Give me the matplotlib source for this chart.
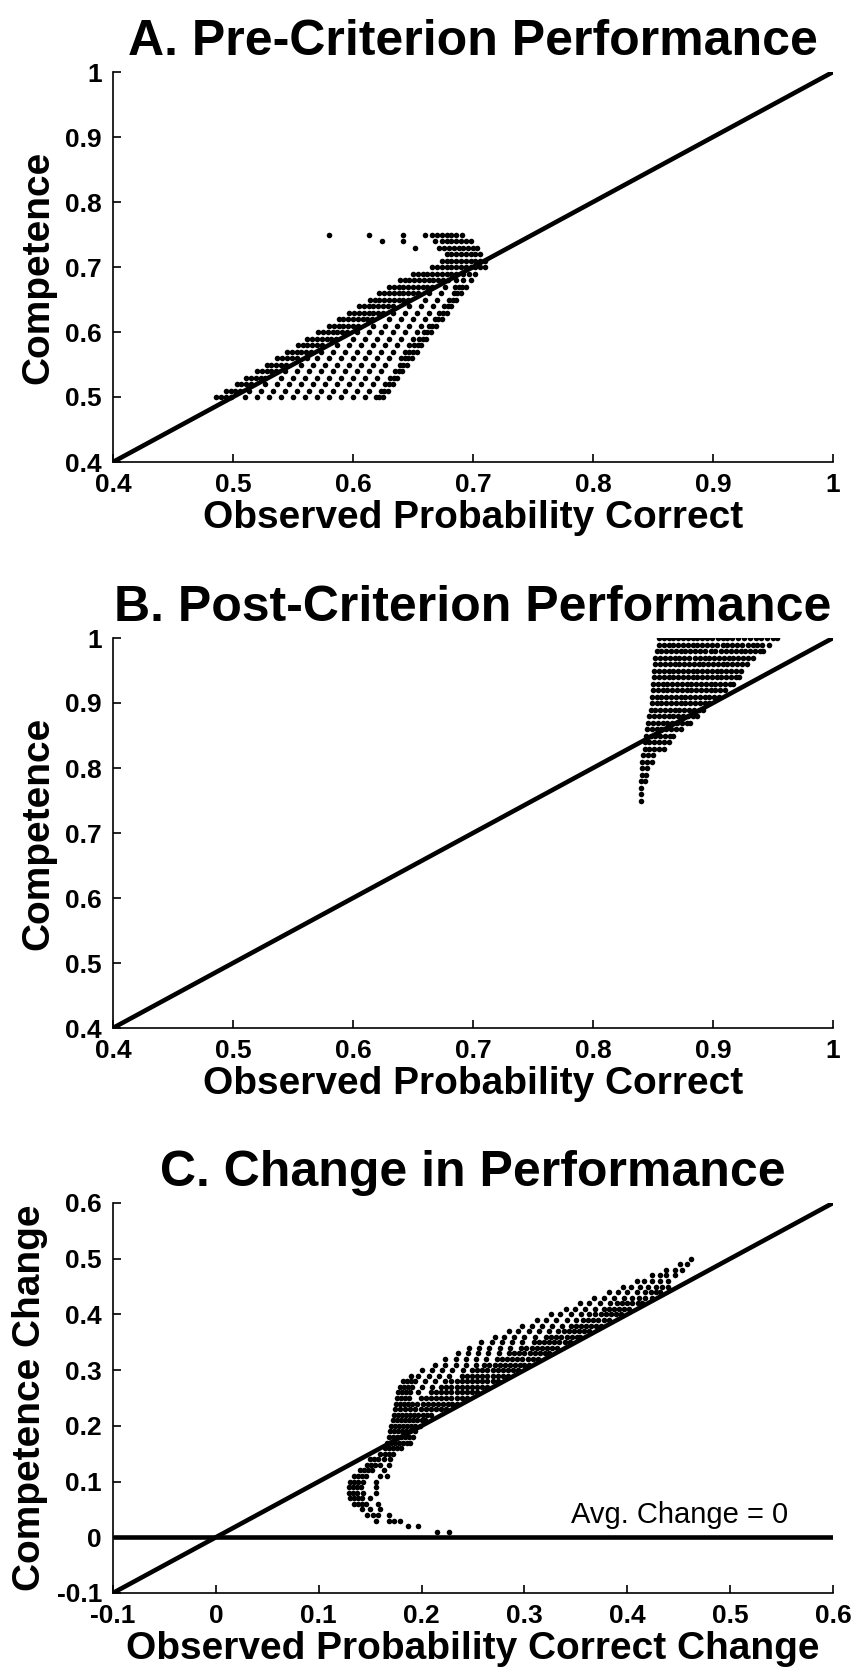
import matplotlib
matplotlib.use("Agg")
import matplotlib.pyplot as plt
import numpy as np

plt.rcParams['font.family'] = ['Liberation Sans', 'DejaVu Sans']
plt.rcParams['font.weight'] = 'bold'

# ---------------- Panel A: pre-criterion (competence rows, observed x in thousandths)
pre_competence = [0.50, 0.51, 0.52, 0.53, 0.54, 0.55, 0.56, 0.57, 0.58, 0.59, 0.60,
                  0.61, 0.62, 0.63, 0.64, 0.65, 0.66, 0.67, 0.68, 0.69, 0.70,
                  0.71, 0.72, 0.73, 0.74, 0.75]
pre_observed_milli = [
    [486, 490, 494, 498, 510, 520, 530, 540, 550, 560, 570, 580, 590, 600, 610, 619, 622, 625],
    [494, 498, 502, 506, 513, 523, 533, 543, 553, 563, 573, 583, 593, 603, 613, 623, 626, 629],
    [503, 507, 511, 515, 527, 537, 547, 557, 567, 577, 587, 597, 607, 617, 627, 630, 633],
    [511, 515, 519, 523, 527, 540, 550, 560, 570, 580, 590, 600, 610, 620, 631, 634, 637],
    [520, 524, 528, 532, 536, 543, 553, 563, 573, 583, 593, 603, 613, 623, 635, 638, 641],
    [528, 532, 536, 540, 544, 557, 567, 577, 587, 597, 607, 617, 627, 639, 642, 645],
    [537, 541, 545, 549, 553, 562, 570, 580, 590, 600, 610, 620, 630, 640, 643, 646, 649],
    [545, 549, 553, 557, 561, 565, 573, 583, 593, 603, 613, 623, 633, 643, 647, 650, 653],
    [554, 558, 562, 566, 570, 574, 587, 597, 607, 617, 627, 637, 647, 651, 654, 657],
    [562, 566, 570, 574, 578, 582, 586, 600, 610, 620, 630, 640, 650, 655, 658, 661],
    [571, 575, 579, 583, 587, 591, 595, 603, 613, 623, 633, 643, 653, 659, 662, 665],
    [580, 584, 588, 592, 596, 600, 604, 617, 627, 637, 647, 657, 663, 666, 669],
    [588, 592, 596, 600, 604, 608, 612, 616, 630, 640, 650, 660, 668, 671, 674],
    [597, 601, 605, 609, 613, 617, 621, 625, 633, 643, 653, 663, 672, 675, 678],
    [605, 609, 613, 617, 621, 625, 629, 633, 647, 657, 667, 676, 679, 682],
    [614, 618, 622, 626, 630, 634, 638, 642, 646, 660, 670, 680, 683, 686],
    [622, 626, 630, 634, 638, 642, 646, 650, 654, 663, 673, 684, 687, 690],
    [630, 634, 638, 642, 646, 650, 654, 658, 662, 666, 677, 685, 688, 691, 694],
    [639, 643, 647, 651, 655, 659, 663, 667, 671, 675, 679, 686, 692, 698],
    [650, 654, 658, 662, 666, 670, 674, 678, 682, 686, 692, 697, 702],
    [666, 670, 674, 678, 682, 686, 690, 694, 698, 702, 706, 710],
    [674, 678, 682, 686, 690, 694, 698, 702, 706, 710],
    [678, 682, 686, 690, 694, 698, 702, 706],
    [652, 672, 676, 680, 684, 688, 692, 696, 700, 703],
    [624, 642, 668, 674, 678, 682, 686, 690, 694, 698],
    [580, 613, 642, 660, 666, 670, 674, 678, 682, 686, 691],
]

# ---------------- Panel B: post-criterion
post_competence = [0.75, 0.76, 0.77, 0.78, 0.79, 0.80, 0.81, 0.82, 0.83, 0.84, 0.85,
                   0.86, 0.87, 0.88, 0.89, 0.90, 0.91, 0.92, 0.93, 0.94, 0.95,
                   0.96, 0.97, 0.98, 0.99, 1.00]
post_observed_milli = [
    [840],
    [840],
    [840],
    [840, 843],
    [841, 844],
    [841, 845],
    [841, 845, 849],
    [842, 846, 850],
    [843, 847, 851, 855, 859],
    [843, 847, 851, 855, 859, 863],
    [844, 848, 852, 856, 860, 864, 867],
    [845, 849, 853, 857, 861, 865, 869, 873],
    [846, 850, 854, 858, 862, 866, 870, 874, 878, 881],
    [847, 851, 855, 859, 863, 867, 871, 875, 879, 883, 887],
    [848, 852, 856, 860, 864, 868, 872, 876, 880, 884, 888, 892],
    [849, 853, 857, 861, 865, 869, 873, 877, 881, 885, 889, 893, 897],
    [849, 853, 857, 861, 865, 869, 873, 877, 881, 885, 889, 893, 897, 901, 905],
    [850, 854, 858, 862, 866, 870, 874, 878, 882, 886, 890, 894, 898, 902, 906, 910],
    [850, 854, 858, 862, 866, 870, 874, 878, 882, 886, 890, 894, 898, 902, 906, 910, 914, 917],
    [851, 855, 859, 863, 867, 871, 875, 879, 883, 887, 891, 895, 899, 903, 907, 911, 915, 919, 922],
    [851, 855, 859, 863, 867, 871, 875, 879, 883, 887, 891, 895, 899, 903, 907, 911, 915, 919, 923],
    [852, 856, 860, 864, 868, 872, 876, 880, 884, 888, 892, 896, 900, 904, 908, 912, 916, 920, 924, 928],
    [852, 856, 860, 864, 868, 872, 876, 880, 885, 889, 893, 897, 901, 905, 909, 913, 917, 921, 925, 929, 933],
    [853, 857, 861, 865, 869, 873, 877, 881, 885, 889, 893, 898, 902, 907, 911, 915, 919, 923, 927, 931, 935, 939, 942],
    [855, 859, 863, 867, 871, 875, 879, 883, 887, 891, 895, 899, 903, 908, 912, 916, 920, 924, 929, 933, 937, 941, 947],
    [855, 859, 863, 867, 871, 875, 879, 883, 887, 891, 895, 899, 904, 908, 912, 916, 921, 926, 931, 936, 940, 945, 950, 953],
]

# ---------------- Panel C: change
change_competence = [0.01, 0.02, 0.03, 0.04, 0.05, 0.06, 0.07, 0.08, 0.09, 0.10,
                     0.11, 0.12, 0.13, 0.14, 0.15, 0.16, 0.17, 0.18, 0.19, 0.20,
                     0.21, 0.22, 0.23, 0.24, 0.25, 0.26, 0.27, 0.28, 0.29, 0.30,
                     0.31, 0.32, 0.33, 0.34, 0.35, 0.36, 0.37, 0.38, 0.39, 0.40,
                     0.41, 0.42, 0.43, 0.44, 0.45, 0.46, 0.47, 0.48, 0.49, 0.50]
change_observed_milli = [
    [215, 227],
    [187, 197],
    [156, 168, 173, 179],
    [147, 153, 158, 168],
    [142, 150, 160],
    [134, 138, 142, 146, 158],
    [130, 134, 138, 142, 150],
    [129, 133, 137, 143, 156],
    [129, 133, 137, 141, 156],
    [130, 134, 138, 143, 156],
    [134, 138, 142, 146, 160, 166],
    [140, 144, 148, 152, 163],
    [147, 151, 155, 160, 168],
    [150, 154, 158, 163, 169],
    [160, 164, 168, 172],
    [164, 168, 172, 176, 180],
    [166, 170, 174, 178, 182, 186, 189],
    [168, 172, 176, 180, 184, 188, 192],
    [169, 173, 177, 181, 185, 189, 194],
    [170, 174, 178, 182, 186, 190, 194, 198],
    [172, 176, 180, 184, 188, 192, 196, 200, 203],
    [173, 177, 181, 185, 189, 193, 197, 201, 205, 209],
    [174, 179, 184, 189, 194, 199, 204, 209, 214, 219, 224],
    [175, 179, 183, 187, 191, 196, 201, 206, 211, 216, 221, 226, 230, 234],
    [176, 180, 184, 188, 199, 204, 209, 214, 219, 224, 229, 234, 239, 244],
    [177, 181, 185, 189, 197, 209, 214, 219, 224, 229, 234, 239, 244, 249, 254],
    [179, 183, 187, 191, 200, 210, 219, 224, 229, 234, 239, 244, 249, 254, 259, 264],
    [182, 186, 190, 194, 203, 213, 223, 229, 234, 239, 244, 249, 254, 259, 264, 269, 274],
    [190, 197, 207, 217, 227, 239, 244, 249, 254, 259, 264, 269, 274, 279, 284],
    [200, 210, 220, 230, 240, 249, 254, 259, 264, 269, 274, 279, 284, 289, 294],
    [213, 223, 233, 243, 253, 261, 266, 271, 276, 281, 286, 291, 296, 300, 304],
    [223, 233, 243, 253, 263, 273, 278, 283, 288, 293, 298, 303, 308, 313],
    [235, 245, 255, 265, 275, 285, 290, 295, 300, 305, 310, 315, 320, 324],
    [246, 256, 266, 276, 286, 297, 302, 307, 312, 317, 322, 327, 332],
    [258, 268, 278, 288, 298, 309, 314, 319, 324, 329, 334, 339, 344],
    [271, 280, 290, 300, 310, 321, 326, 331, 336, 341, 346, 351, 354],
    [285, 294, 304, 314, 324, 333, 338, 343, 348, 353, 358, 363],
    [298, 307, 317, 327, 337, 345, 350, 355, 360, 365, 370, 374],
    [312, 321, 331, 341, 350, 357, 362, 367, 372, 377, 382],
    [326, 335, 345, 355, 363, 369, 374, 379, 384, 389, 394],
    [340, 349, 359, 369, 377, 382, 387, 392, 397, 402],
    [354, 363, 373, 383, 390, 395, 400, 405, 410, 414],
    [368, 377, 387, 397, 405, 411, 417, 424],
    [382, 391, 400, 409, 417, 423, 428, 432],
    [396, 404, 412, 420, 428, 434, 440],
    [409, 416, 424, 432, 440],
    [424, 432, 438, 446],
    [438, 446, 453],
    [451, 458],
    [462],
]

ab_ticks = [0.4, 0.5, 0.6, 0.7, 0.8, 0.9, 1.0]
ab_ticklabels = ['0.4', '0.5', '0.6', '0.7', '0.8', '0.9', '1']
c_ticks = [-0.1, 0.0, 0.1, 0.2, 0.3, 0.4, 0.5, 0.6]
c_ticklabels = ['-0.1', '0', '0.1', '0.2', '0.3', '0.4', '0.5', '0.6']

titles = ['A. Pre-Criterion Performance', 'B. Post-Criterion Performance',
          'C. Change in Performance']
xlabels = ['Observed Probability Correct', 'Observed Probability Correct',
           'Observed Probability Correct Change']
ylabels = ['Competence', 'Competence', 'Competence Change']
avg_change_label = 'Avg. Change = 0'


def flatten(levels, rows):
    xs, ys = [], []
    for lev, row in zip(levels, rows):
        for v in row:
            xs.append(v / 1000.0)
            ys.append(lev)
    return np.array(xs), np.array(ys)


fig = plt.figure(figsize=(8.64, 16.8), dpi=100)
W, H = 864.0, 1680.0
left = 113 / W
width = 720 / W
height = 390 / H
bottoms = [1 - 462 / H, 1 - 1028 / H, 1 - 1593 / H]

datasets = [(pre_competence, pre_observed_milli),
            (post_competence, post_observed_milli),
            (change_competence, change_observed_milli)]

for i in range(3):
    ax = fig.add_axes([left, bottoms[i], width, height])
    if i < 2:
        lo, hi = 0.4, 1.0
        ticks, tlabels = ab_ticks, ab_ticklabels
    else:
        lo, hi = -0.1, 0.6
        ticks, tlabels = c_ticks, c_ticklabels
    ax.set_xlim(lo, hi)
    ax.set_ylim(lo, hi)
    ax.plot([lo, hi], [lo, hi], color='black', lw=3.3, solid_capstyle='butt', zorder=3)
    if i == 2:
        ax.plot([lo, hi], [0, 0], color='black', lw=3.3, solid_capstyle='butt', zorder=3)
        ax.text(0.345, 0.014, avg_change_label, fontsize=21, fontweight='normal',
                ha='left', va='bottom')
    xs, ys = flatten(*datasets[i])
    ax.scatter(xs, ys, s=16, c='black', linewidths=0, zorder=2)

    ax.set_xticks(ticks)
    ax.set_xticklabels(tlabels)
    ax.set_yticks(ticks)
    ax.set_yticklabels(tlabels)
    ax.tick_params(direction='in', length=6, width=1.2, labelsize=19, pad=8)
    for sp in ['top', 'right']:
        ax.spines[sp].set_visible(False)
    for sp in ['left', 'bottom']:
        ax.spines[sp].set_linewidth(1.2)
    ax.set_title(titles[i], fontsize=36, fontweight='bold', pad=12)
    ax.set_xlabel(xlabels[i], fontsize=28, fontweight='bold', labelpad=2)
    ax.set_ylabel(ylabels[i], fontsize=28, fontweight='bold', labelpad=6)

fig.savefig('out.png', dpi=100)
